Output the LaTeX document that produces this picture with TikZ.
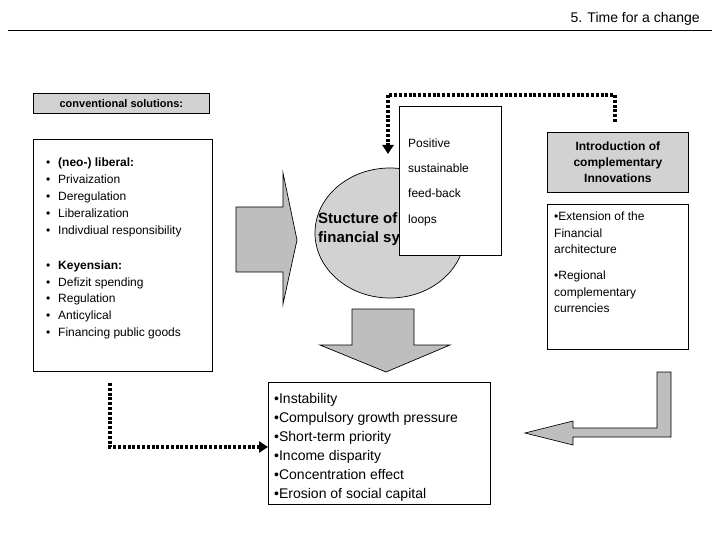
\documentclass[tikz,border=0pt]{standalone}
\usepackage{fontspec}
\setmainfont{Liberation Sans}
\usetikzlibrary{arrows.meta,shapes.geometric}
\definecolor{boxgray}{RGB}{210,210,210}
\definecolor{arrgray}{RGB}{190,190,190}
\begin{document}
\begin{tikzpicture}[x=1pt,y=-1pt,
  txt/.style={anchor=base west,inner sep=0pt,font=\fontsize{12}{16.5}\selectfont},
  big/.style={anchor=base west,inner sep=0pt,font=\fontsize{14}{16}\selectfont},
  dotline/.style={line width=3.4pt,dash pattern=on 3pt off 1.8pt,-{Triangle[length=9pt,width=11pt]}},
  blk/.style={draw=black,line width=0.7pt}]
\useasboundingbox (0,0) rectangle (720,540);
% title
\node[anchor=base east,inner sep=0pt,font=\fontsize{14}{16}\selectfont] (title) at (700,23) {5. Time for a change};
\draw[line width=0.8pt] (8,30) -- (712,30);
% conventional solutions
\node[blk,fill=boxgray,minimum width=176pt,minimum height=20pt,anchor=north west,font=\bfseries\fontsize{11}{12}\selectfont] (conv) at (33,93) {conventional solutions:};
\node[blk,fill=white,minimum width=179pt,minimum height=232pt,anchor=north west] (list) at (33,139) {};
\foreach \y/\t in {167/\textbf{(neo-) liberal:},184/Privaization,201/Deregulation,218/Liberalization,235/Indivdiual responsibility,269/\textbf{Keyensian:},286/Defizit spending,302/Regulation,319/Anticylical,336/Financing public goods}{
  \node[txt] at (46,\y) {•};
  \node[txt] at (58,\y) {\t};
}
% right arrow
\draw[blk,fill=arrgray] (236,207) -- (283,207) -- (283,173) -- (297,240) -- (283,304) -- (283,272) -- (236,272) -- cycle;
% ellipse
\node[blk,fill=boxgray,ellipse,minimum width=150pt,minimum height=130pt] (ell) at (390,233) {};
\node[anchor=north west,inner sep=0pt,align=left,font=\bfseries\fontsize{15}{19}\selectfont] (elltxt) at (318,212) {Stucture of the\\financial system};
% feedback box
\node[blk,fill=white,minimum width=102pt,minimum height=149pt,anchor=north west] (fb) at (399,106) {};
\node[txt] at (408,148) {Positive};
\node[txt] at (408,173) {sustainable};
\node[txt] at (408,198) {feed-back};
\node[txt] at (408,223) {loops};
% innovations
\node[blk,fill=boxgray,minimum width=141pt,minimum height=60pt,anchor=north west,align=center,font=\bfseries\fontsize{12}{16}\selectfont] (innov) at (547,132) {Introduction of\\complementary\\Innovations};
\node[blk,fill=white,minimum width=141pt,minimum height=145pt,anchor=north west] (ext) at (547,204) {};
\node[txt,anchor=north west,align=left] at (554,212) {•Extension of the\\Financial\\architecture};
\node[txt,anchor=north west,align=left] at (554,271) {•Regional\\complementary\\currencies};
% down arrow
\draw[blk,fill=arrgray] (352,309) -- (414,309) -- (414,345) -- (450,345) -- (386,372) -- (320,345) -- (352,345) -- cycle;
% bottom box
\node[blk,fill=white,minimum width=222pt,minimum height=122pt,anchor=north west] (res) at (268,382) {};
\foreach \y/\t in {403/Instability,422/Compulsory growth pressure,441/Short-term priority,460/Income disparity,479/Concentration effect,498/Erosion of social capital}{
  \node[big] at (274,\y) {•\t};
}
% L arrow
\draw[blk,fill=arrgray] (657,372) -- (671,372) -- (671,437) -- (573,437) -- (573,445) -- (525,433) -- (573,421) -- (573,428) -- (657,428) -- cycle;
% dotted connectors
\coordinate (d1) at (615,122);
\draw[dotline] (d1) -- (615,95) -- (388,95) -- (388,154);
\coordinate (d2) at (110,383);
\draw[dotline] (d2) -- (110,447) -- (res.west |- 0,447);
\end{tikzpicture}
\end{document}
